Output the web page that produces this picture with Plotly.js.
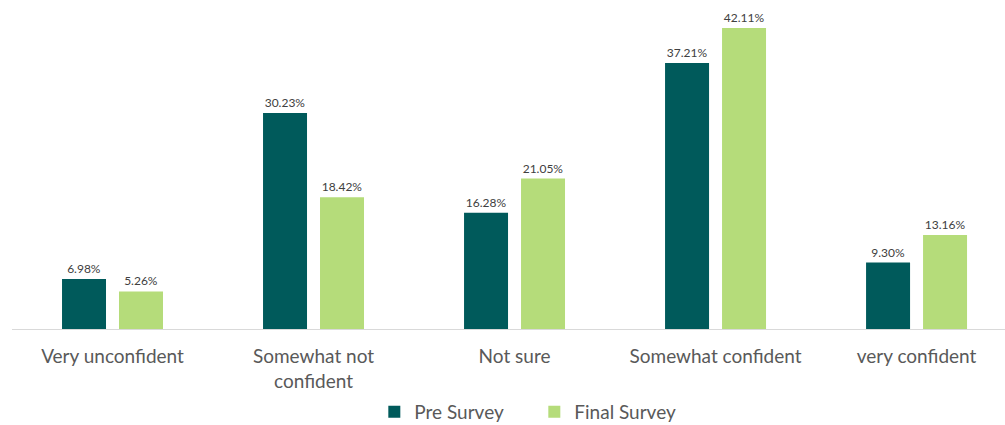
<!DOCTYPE html>
<html>
<head>
<meta charset="utf-8">
<script src="https://cdn.plot.ly/plotly-3.0.1.min.js"></script>
<style>html,body{margin:0;padding:0;background:#fff;}#chart{width:1005px;height:425px;}</style>
</head>
<body>
<div id="chart"></div>
<script>
const categories = ["Very unconfident", "Somewhat not<br>confident", "Not sure", "Somewhat confident", "very confident"];
const preSurvey = [6.98, 30.23, 16.28, 37.21, 9.30];
const finalSurvey = [5.26, 18.42, 21.05, 42.11, 13.16];
const seriesNames = ["Pre Survey", "Final Survey"];

const fmt = v => v.toFixed(2) + "%";
const traces = [
  {type: "bar", name: seriesNames[0], x: categories, y: preSurvey,
   marker: {color: "#005a5b"}, text: preSurvey.map(fmt), textposition: "outside",
   textfont: {size: 12, color: "#404040"}, cliponaxis: false, hoverinfo: "none"},
  {type: "bar", name: seriesNames[1], x: categories, y: finalSurvey,
   marker: {color: "#b5dc7a"}, text: finalSurvey.map(fmt), textposition: "outside",
   textfont: {size: 12, color: "#404040"}, cliponaxis: false, hoverinfo: "none"}
];
const layout = {
  width: 1005, height: 425,
  margin: {l: 12, r: 0, t: 10, b: 96, autoexpand: false},
  paper_bgcolor: "#fff", plot_bgcolor: "#fff",
  font: {family: "Lato, 'Liberation Sans', sans-serif", color: "#595959"},
  barmode: "group", bargap: 0.433, bargroupgap: 0.228,
  showlegend: true,
  legend: {orientation: "h", x: 0.526, xanchor: "center", yref: "container", y: 0.031, yanchor: "middle",
           font: {size: 19, color: "#595959"}, itemwidth: 30, traceorder: "normal",
           entrywidth: 115, entrywidthmode: "pixels"},
  xaxis: {type: "category", range: [-0.5, 4.44], showline: true, linecolor: "#d9d9d9", linewidth: 1,
          ticks: "", showgrid: false, tickfont: {size: 19, color: "#595959"}, ticklabelstandoff: 10, fixedrange: true},
  yaxis: {range: [0, 44.63], visible: false, showgrid: false, zeroline: false, fixedrange: true}
};
Plotly.newPlot("chart", traces, layout, {displayModeBar: false, staticPlot: true});
</script>
</body>
</html>
